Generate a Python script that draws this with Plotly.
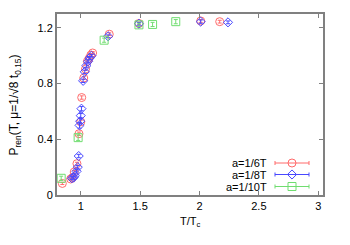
import plotly.graph_objects as go

# a=1/6T
t6 = [0.845, 0.915, 0.93, 0.945, 0.968, 0.985, 1.0, 1.008, 1.025, 1.04, 1.056, 1.07, 1.085, 1.10, 1.24, 1.49, 2.01, 2.17]
p6 = [0.083, 0.115, 0.125, 0.165, 0.225, 0.44, 0.525, 0.70, 0.84, 0.905, 0.96, 0.98, 1.005, 1.02, 1.155, 1.232, 1.25, 1.245]
e6 = [0.008, 0.008, 0.008, 0.01, 0.01, 0.012, 0.012, 0.012, 0.01, 0.01, 0.01, 0.01, 0.01, 0.01, 0.01, 0.01, 0.01, 0.01]
# a=1/8T
t8 = [0.925, 0.94, 0.95, 0.965, 0.975, 0.983, 0.99, 0.995, 1.0, 1.006, 1.02, 1.034, 1.048, 1.062, 1.076, 1.09, 1.23, 1.49, 2.01, 2.24]
p8 = [0.12, 0.125, 0.14, 0.17, 0.20, 0.28, 0.50, 0.53, 0.57, 0.62, 0.82, 0.885, 0.93, 0.96, 0.985, 1.0, 1.14, 1.23, 1.245, 1.24]
e8 = [0.01, 0.01, 0.01, 0.012, 0.012, 0.012, 0.02, 0.02, 0.015, 0.015, 0.012, 0.012, 0.012, 0.01, 0.01, 0.01, 0.01, 0.01, 0.012, 0.01]
# a=1/10T
t10 = [0.835, 0.978, 1.197, 1.49, 1.605, 1.80]
p10 = [0.12, 0.412, 1.112, 1.222, 1.225, 1.245]
e10 = [0.015, 0.02, 0.015, 0.012, 0.015, 0.015]

names = ["a=1/6T", "a=1/8T", "a=1/10T"]
colors = ["#ff6a6a", "#4848ff", "#70dd70"]
symbols = ["circle-open", "diamond-open", "square-open"]
sizes = [8, 7, 8]
xticks = [1, 1.5, 2, 2.5, 3]
yticks = [0, 0.4, 0.8, 1.2]

FONT = "Liberation Sans, Arial, sans-serif"

fig = go.Figure()
for t, p, e, c, s, sz, n in zip([t6, t8, t10], [p6, p8, p10], [e6, e8, e10], colors, symbols, sizes, names):
    fig.add_trace(go.Scatter(
        x=t, y=p, mode="markers", name=n, showlegend=False,
        marker=dict(symbol=s, size=sz, color=c, line=dict(width=1, color=c)),
        error_y=dict(type="data", array=e, color=c, thickness=1, width=2),
    ))

# manual legend (gnuplot style: text left, sample right) in an overlay pixel-like axis
leg_y = [32, 20.5, 8.5]
for n, c, s, sz, yy in zip(names, colors, symbols, sizes, leg_y):
    fig.add_trace(go.Scatter(
        x=[235], y=[yy], xaxis="x2", yaxis="y2", mode="markers", showlegend=False,
        marker=dict(symbol=s, size=sz, color=c, line=dict(width=1, color=c)),
        error_x=dict(type="constant", value=17, color=c, thickness=1, width=2),
        hoverinfo="skip",
    ))
    fig.add_annotation(x=212, y=yy, xref="x2", yref="y2", text=n, showarrow=False,
                       xanchor="right", yanchor="middle",
                       font=dict(family=FONT, size=11, color="black"))

# axis titles
fig.add_annotation(x=0.5, y=-0.149, xref="paper", yref="paper", yanchor="middle",
                   text="T/T<sub>c</sub>", showarrow=False,
                   font=dict(family=FONT, size=11, color="black"))
fig.add_annotation(x=-0.158, y=0.5, xref="paper", yref="paper", textangle=-90,
                   xanchor="center", yanchor="middle",
                   text="P<sub>ren</sub>(T, μ=1/√8 t<sub>0.15</sub>)", showarrow=False,
                   font=dict(family=FONT, size=12, color="black"))

axis_common = dict(showline=True, linecolor="#808080", linewidth=2, mirror="ticks",
                   ticks="inside", ticklen=4, tickcolor="#808080", tickwidth=1,
                   showgrid=False, zeroline=False, automargin=False,
                   tickfont=dict(family=FONT, size=11, color="black"))

fig.update_layout(
    width=342, height=237,
    margin=dict(l=49, r=27, t=6, b=50),
    paper_bgcolor="white", plot_bgcolor="white",
    font=dict(family=FONT, size=11, color="black"),
    xaxis=dict(range=[0.8, 3.04], tickvals=xticks, ticktext=[str(v) for v in xticks], **axis_common),
    yaxis=dict(range=[0, 1.3], tickvals=yticks, ticktext=["0", "0.4", "0.8", "1.2"], **axis_common),
    xaxis2=dict(range=[0, 266], overlaying="x", visible=False, fixedrange=True),
    yaxis2=dict(range=[0, 181], overlaying="y", visible=False, fixedrange=True),
    showlegend=False,
)
fig.write_html("out.html")
